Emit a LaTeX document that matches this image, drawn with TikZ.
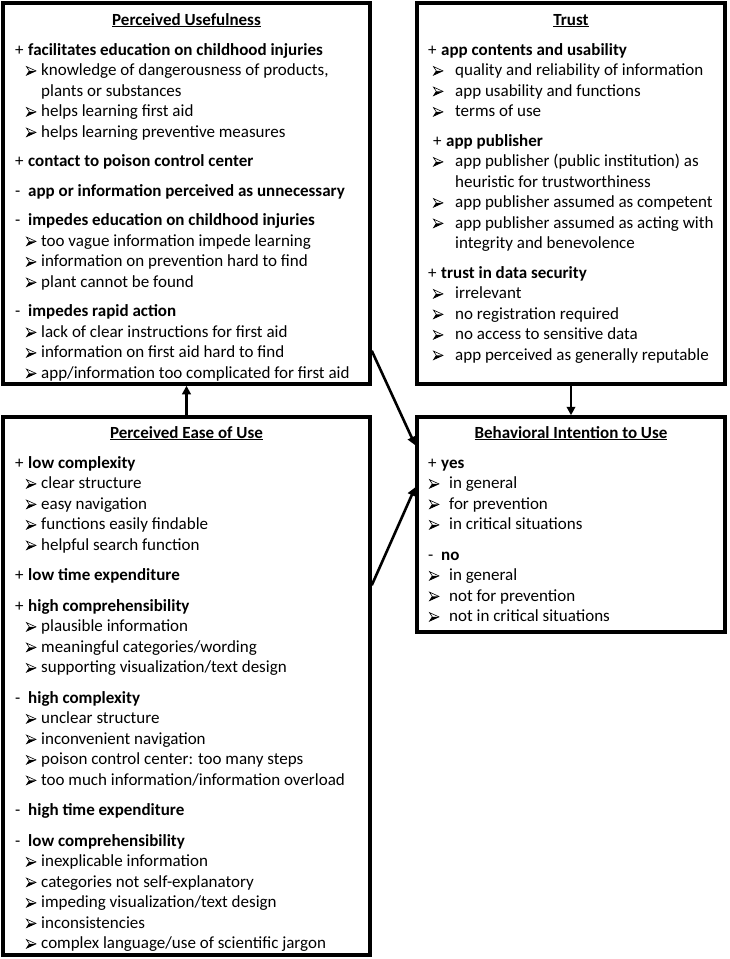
\documentclass[tikz,border=0pt]{standalone}
\usepackage{fontspec}
\setmainfont{Carlito}
\usetikzlibrary{arrows.meta,positioning}

\newcommand{\arr}{\tikz[x=1pt,y=1pt,baseline=0pt,line width=0.6pt,line join=miter]{
  \draw (0,0.3)--(9.5,4.6)--(0,8.9)--(2.8,4.6)--cycle;
  \fill (0,0.3)--(9.5,4.6)--(2.8,4.6)--cycle;}}
\newlength{\bulind}
\newlength{\txtind}
\newcommand{\plus}[1]{\makebox[13pt][l]{+}\textbf{#1}\par}
\newcommand{\minus}[1]{\makebox[13pt][l]{-}\textbf{#1}\par}
\newcommand{\itm}[1]{\hangindent=\txtind\hspace*{\bulind}\makebox[\dimexpr\txtind-\bulind\relax][l]{\arr}#1\par}
\newcommand{\gap}{\vspace{9pt}}
\newcommand{\biggap}{\vspace{10pt}}

\tikzset{
  box/.style={draw, line width=3.5pt, rectangle},
  title/.style={font=\fontsize{17}{20}\selectfont\bfseries, anchor=base, inner sep=0pt},
  body/.style={anchor=base west, inner sep=0pt},
  arrow/.style={line width=2.6pt, -{Triangle[length=8.5pt,width=8.5pt]}}
}

\begin{document}
\begin{tikzpicture}[x=1pt,y=-1pt]
  \useasboundingbox (0,0) rectangle (730,959);

  \node[box, minimum width=367pt, minimum height=381pt] (PU) at (186.5,193.5) {};
  \node[box, minimum width=308pt, minimum height=381pt] (TR) at (571,193.5) {};
  \node[box, minimum width=367pt, minimum height=538pt] (PEOU) at (186.5,686) {};
  \node[box, minimum width=308pt, minimum height=215pt] (BI) at (571,524.5) {};

  \node[title] (PUtitle) at (186.5,25) {\underline{Perceived Usefulness}};
  \node[title] (TRtitle) at (571,25) {\underline{Trust}};
  \node[title] (PEOUtitle) at (186.5,438) {\underline{Perceived Ease of Use}};
  \node[title] (BItitle) at (571,438) {\underline{Behavioral Intention to Use}};

  \node[body] (PUtext) at (15,55) {\parbox[t]{352pt}{\fontsize{17}{20.5}\selectfont\raggedright
    \setlength{\bulind}{11pt}\setlength{\txtind}{26pt}
    \plus{facilitates education on childhood injuries}
    \itm{knowledge of dangerousness of products,\newline plants or substances}
    \itm{helps learning first aid}
    \itm{helps learning preventive measures}
    \gap
    \plus{contact to poison control center}
    \gap
    \minus{app or information perceived as unnecessary}
    \gap
    \minus{impedes education on childhood injuries}
    \itm{too vague information impede learning}
    \itm{information on prevention hard to find}
    \itm{plant cannot be found}
    \gap
    \minus{impedes rapid action}
    \itm{lack of clear instructions for first aid}
    \itm{information on first aid hard to find}
    \itm{app/information too complicated for first aid}}};

  \node[body] (TRtext) at (428,55) {\parbox[t]{295pt}{\fontsize{17}{20.5}\selectfont\raggedright
    \setlength{\bulind}{5pt}\setlength{\txtind}{27pt}
    \plus{app contents and usability}
    \itm{quality and reliability of information}
    \itm{app usability and functions}
    \itm{terms of use}
    \gap
    \hspace*{5pt}\plus{app publisher}
    \itm{app publisher (public institution) as\newline heuristic for trustworthiness}
    \itm{app publisher assumed as competent}
    \itm{app publisher assumed as acting with\newline integrity and benevolence}
    \gap
    \plus{trust in data security}
    \itm{irrelevant}
    \itm{no registration required}
    \itm{no access to sensitive data}
    \itm{app perceived as generally reputable}}};

  \node[body] (PEOUtext) at (15,468) {\parbox[t]{352pt}{\fontsize{17}{20.5}\selectfont\raggedright
    \setlength{\bulind}{11pt}\setlength{\txtind}{26pt}
    \plus{low complexity}
    \itm{clear structure}
    \itm{easy navigation}
    \itm{functions easily findable}
    \itm{helpful search function}
    \biggap
    \plus{low time expenditure}
    \biggap
    \plus{high comprehensibility}
    \itm{plausible information}
    \itm{meaningful categories/wording}
    \itm{supporting visualization/text design}
    \biggap
    \minus{high complexity}
    \itm{unclear structure}
    \itm{inconvenient navigation}
    \itm{poison control center: too many steps}
    \itm{too much information/information overload}
    \biggap
    \minus{high time expenditure}
    \biggap
    \minus{low comprehensibility}
    \itm{inexplicable information}
    \itm{categories not self-explanatory}
    \itm{impeding visualization/text design}
    \itm{inconsistencies}
    \itm{complex language/use of scientific jargon}}};

  \node[body] (BItext) at (428,468) {\parbox[t]{295pt}{\fontsize{17}{20.5}\selectfont\raggedright
    \setlength{\bulind}{1pt}\setlength{\txtind}{21pt}
    \plus{yes}
    \itm{in general}
    \itm{for prevention}
    \itm{in critical situations}
    \biggap
    \minus{no}
    \itm{in general}
    \itm{not for prevention}
    \itm{not in critical situations}}};

  \draw[arrow] (PEOU.north) -- (PU.south);
  \draw[arrow] (TR.south) -- (BI.north);
  \draw[arrow] ([yshift=35pt]PU.south east) -- ([yshift=-30pt]BI.north west);
  \draw[arrow] ([yshift=-170pt]PEOU.north east) -- ([yshift=-72pt]BI.north west);
\end{tikzpicture}
\end{document}
